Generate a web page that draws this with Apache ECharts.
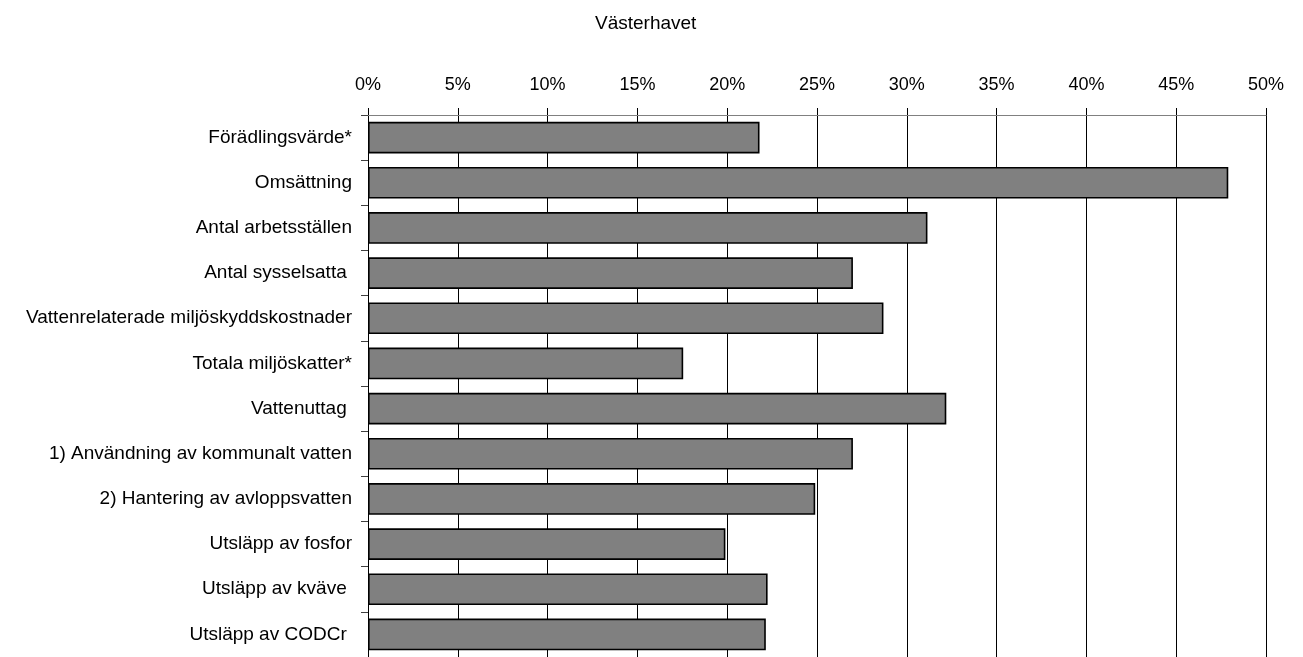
<!DOCTYPE html>
<html>
<head>
<meta charset="utf-8">
<script src="https://cdn.jsdelivr.net/npm/echarts@6/dist/echarts.min.js"></script>
<style>
  html, body { margin: 0; padding: 0; background: #fff; }
  #chart { width: 1303px; height: 657px; }
</style>
</head>
<body>
<div id="chart"></div>
<script>
// Categories (top to bottom) and their shares, in percent
const categories = [
  'Förädlingsvärde*',
  'Omsättning',
  'Antal arbetsställen',
  'Antal sysselsatta ',
  'Vattenrelaterade miljöskyddskostnader',
  'Totala miljöskatter*',
  'Vattenuttag ',
  '1) Användning av kommunalt vatten',
  '2) Hantering av avloppsvatten',
  'Utsläpp av fosfor',
  'Utsläpp av kväve ',
  'Utsläpp av CODCr '
];
const shares = [21.8, 47.9, 31.15, 27.0, 28.7, 17.55, 32.2, 27.0, 24.9, 19.9, 22.25, 22.15];
const chartTitle = 'Västerhavet';

const font = 'Liberation Sans, Arial, sans-serif';
const chart = echarts.init(document.getElementById('chart'), null, { renderer: 'canvas' });

chart.setOption({
  animation: false,
  backgroundColor: '#ffffff',
  title: {
    text: chartTitle,
    left: 590,
    top: 9,
    textStyle: { fontFamily: font, fontSize: 19, fontWeight: 'normal', color: '#000' }
  },
  grid: { left: 368, right: 37, top: 115, height: 544, containLabel: false },
  xAxis: {
    type: 'value',
    position: 'top',
    min: 0,
    max: 50,
    interval: 5,
    axisLine: { show: true, lineStyle: { color: '#808080', width: 1 } },
    axisTick: { show: true, inside: false, length: 7, lineStyle: { color: '#000', width: 1 } },
    axisLabel: {
      formatter: '{value}%',
      margin: 21,
      fontFamily: font,
      fontSize: 18,
      color: '#000'
    },
    splitLine: { show: true, lineStyle: { color: '#000', width: 1 } }
  },
  yAxis: {
    type: 'category',
    inverse: true,
    data: categories,
    axisLine: { show: true, lineStyle: { color: '#000', width: 1 } },
    axisTick: { show: true, length: 7, lineStyle: { color: '#404040', width: 1 } },
    axisLabel: {
      margin: 16,
      fontFamily: font,
      fontSize: 19,
      color: '#000'
    }
  },
  series: [{
    type: 'bar',
    data: shares,
    barCategoryGap: '30%',
    itemStyle: { color: '#808080', borderColor: '#000', borderWidth: 1.6 }
  }]
});
</script>
</body>
</html>
